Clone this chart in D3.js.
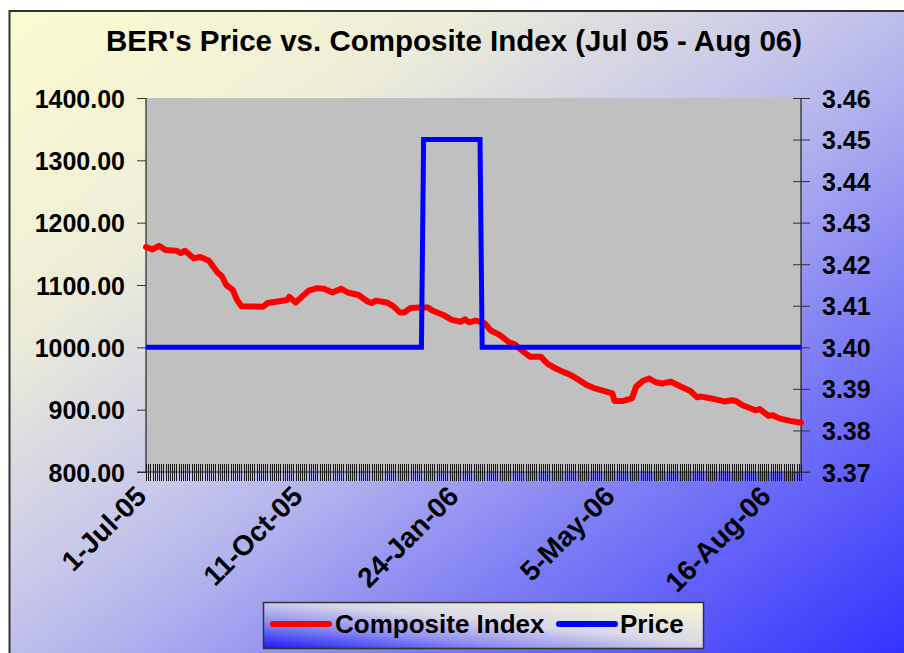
<!DOCTYPE html>
<html>
<head>
<meta charset="utf-8">
<script src="https://cdn.jsdelivr.net/npm/d3@7"></script>
<style>
  html, body { margin: 0; padding: 0; background: #ffffff; }
  svg { display: block; }
  text { font-family: "Liberation Sans", Arial, sans-serif; font-weight: bold; fill: #000; }
</style>
</head>
<body>
<svg id="chart" width="904" height="653"></svg>
<script>
// ---------------- data ----------------
const title = "BER's Price vs. Composite Index (Jul 05 - Aug 06)";
const xLabels = ["1-Jul-05", "11-Oct-05", "24-Jan-06", "5-May-06", "16-Aug-06"];
const labelInterval = 72;      // one label every 72 trading-day categories
const categoryCount = 303;     // trading-day categories on the axis
const leftTicks = [800, 900, 1000, 1100, 1200, 1300, 1400];
const rightTicks = [3.37, 3.38, 3.39, 3.40, 3.41, 3.42, 3.43, 3.44, 3.45, 3.46];

// Composite Index: category index and value
const indexCat = [0, 3, 6, 9, 14, 16, 18, 22, 25, 29, 33, 35, 37, 40, 42, 44, 54, 56, 60, 65,
  66, 69, 75, 79, 82, 86, 90, 93, 98, 102, 104, 106, 111, 114, 117, 119, 122, 126, 130, 132,
  137, 141, 145, 147, 149, 152, 156, 159, 163, 167, 170, 174, 177, 182, 185, 189, 192, 195, 199, 203,
  207, 211, 215, 216, 220, 224, 226, 229, 232, 235, 238, 242, 246, 251, 254, 256, 262, 267, 270, 272,
  275, 281, 283, 287, 289, 292, 297, 302];
const indexValue = [1161, 1157, 1163, 1156, 1155, 1151, 1155, 1143, 1145, 1139, 1120, 1114, 1100, 1092, 1076, 1066, 1065, 1071, 1073, 1076,
  1081, 1072, 1091, 1095, 1094, 1088, 1094, 1088, 1084, 1074, 1071, 1075, 1072, 1066, 1056, 1056, 1063, 1064, 1064, 1059,
  1052, 1044, 1041, 1045, 1040, 1043, 1039, 1027, 1020, 1009, 1005, 993, 985, 985, 974, 966, 961, 957, 949, 940,
  934, 930, 926, 914, 914, 918, 937, 946, 950, 944, 942, 945, 938, 930, 920, 921, 917, 913, 915, 914,
  907, 899, 901, 890, 891, 886, 882, 879];

// Price: category index and value
const priceCat = [0, 127, 128, 154, 155, 302];
const priceValue = [3.40, 3.40, 3.45, 3.45, 3.40, 3.40];

// ---------------- drawing ----------------
const svg = d3.select("#chart");
const defs = svg.append("defs");

const bg = defs.append("linearGradient").attr("id", "bgGrad")
  .attr("x1", 0).attr("y1", 0).attr("x2", 1).attr("y2", 1);
[[0, "#fcfcd0"], [0.25, "#ededd8"], [0.45, "#c8c8ea"], [0.55, "#b0b0ee"], [0.7, "#8282f4"], [1, "#3030ff"]]
  .forEach(([o, c]) => bg.append("stop").attr("offset", o).attr("stop-color", c));

const lg = defs.append("linearGradient").attr("id", "legGrad")
  .attr("x1", 0).attr("y1", 1).attr("x2", 1).attr("y2", 0);
[[0, "#1818ff"], [0.3, "#9090f2"], [0.55, "#d8d8ea"], [1, "#fafad0"]]
  .forEach(([o, c]) => lg.append("stop").attr("offset", o).attr("stop-color", c));

// outer chart area
svg.append("rect").attr("x", 9.5).attr("y", 11).attr("width", 900).attr("height", 650)
  .attr("fill", "url(#bgGrad)").attr("stroke", "#333").attr("stroke-width", 2);

// title
svg.append("text").attr("x", 454).attr("y", 51).attr("text-anchor", "middle")
  .style("font-size", "29.5px").text(title);

const plot = { left: 146, right: 801, top: 98, bottom: 472 };
const x = d3.scaleLinear().domain([0, categoryCount - 1]).range([plot.left, plot.right]);
const yL = d3.scaleLinear().domain([800, 1400]).range([plot.bottom, plot.top]);
const yR = d3.scaleLinear().domain([3.37, 3.46]).range([plot.bottom, plot.top]);

svg.append("rect").attr("x", plot.left).attr("y", plot.top)
  .attr("width", plot.right - plot.left).attr("height", plot.bottom - plot.top)
  .attr("fill", "#c0c0c0");

// left axis
const axL = svg.append("g").attr("transform", `translate(${plot.left},0)`)
  .call(d3.axisLeft(yL).tickValues(leftTicks).tickFormat(d3.format(".2f")).tickSize(9).tickPadding(12));
axL.select(".domain").attr("stroke", "#000").attr("d", `M0,${plot.top}V${plot.bottom}`);
axL.selectAll(".tick line").attr("stroke", "#333");
axL.selectAll("text").style("font-size", "25px").attr("dy", "0.36em")
  .style("font-family", "'Liberation Sans', Arial, sans-serif").style("font-weight", "bold");

// right axis
const axR = svg.append("g").attr("transform", `translate(${plot.right},0)`)
  .call(d3.axisRight(yR).tickValues(rightTicks).tickFormat(d3.format(".2f")).tickSize(9).tickPadding(12));
axR.select(".domain").attr("stroke", "#000").attr("d", `M0,${plot.top}V${plot.bottom}`);
axR.selectAll(".tick line").attr("stroke", "#333").attr("x1", -8);
axR.selectAll("text").style("font-size", "25px").attr("dy", "0.36em")
  .style("font-family", "'Liberation Sans', Arial, sans-serif").style("font-weight", "bold");

// bottom axis with a tick per category
const cats = d3.range(categoryCount);
const axB = svg.append("g").attr("transform", `translate(0,${plot.bottom})`)
  .call(d3.axisBottom(x).tickValues(cats).tickFormat("").tickSize(9));
axB.select(".domain").attr("stroke", "#333").attr("d", `M${plot.left - 9},0H${plot.right + 9}`);
axB.selectAll(".tick line").attr("stroke", "#1a1a1a").attr("y1", -8).attr("shape-rendering", "crispEdges");

// x labels
svg.append("g").selectAll("text").data(xLabels).join("text")
  .attr("transform", (d, i) => `translate(${x(i * labelInterval) + 2},${plot.bottom + 26}) rotate(-45)`)
  .attr("text-anchor", "end")
  .style("font-size", "28px").text(d => d);

// series
const indexData = indexCat.map((c, i) => [c, indexValue[i]]);
const priceData = priceCat.map((c, i) => [c, priceValue[i]]);

svg.append("path").datum(indexData)
  .attr("fill", "none").attr("stroke", "#ff0000").attr("stroke-width", 6)
  .attr("stroke-linejoin", "round").attr("stroke-linecap", "round")
  .attr("d", d3.line().x(d => x(d[0])).y(d => yL(d[1])));

svg.append("path").datum(priceData)
  .attr("fill", "none").attr("stroke", "#0000ff").attr("stroke-width", 5)
  .attr("stroke-linejoin", "miter")
  .attr("d", d3.line().x(d => x(d[0])).y(d => yR(d[1])));

// legend
const leg = svg.append("g");
leg.append("rect").attr("x", 263.5).attr("y", 602.5).attr("width", 440).attr("height", 46)
  .attr("fill", "url(#legGrad)").attr("stroke", "#333").attr("stroke-width", 1.5);
leg.append("line").attr("x1", 273).attr("x2", 329).attr("y1", 624).attr("y2", 624)
  .attr("stroke", "#ff0000").attr("stroke-width", 6).attr("stroke-linecap", "round");
leg.append("text").attr("x", 335).attr("y", 633).style("font-size", "26px").text("Composite Index");
leg.append("line").attr("x1", 559).attr("x2", 615).attr("y1", 624).attr("y2", 624)
  .attr("stroke", "#0000ff").attr("stroke-width", 6).attr("stroke-linecap", "round");
leg.append("text").attr("x", 620).attr("y", 633).style("font-size", "26px").text("Price");
</script>
</body>
</html>
